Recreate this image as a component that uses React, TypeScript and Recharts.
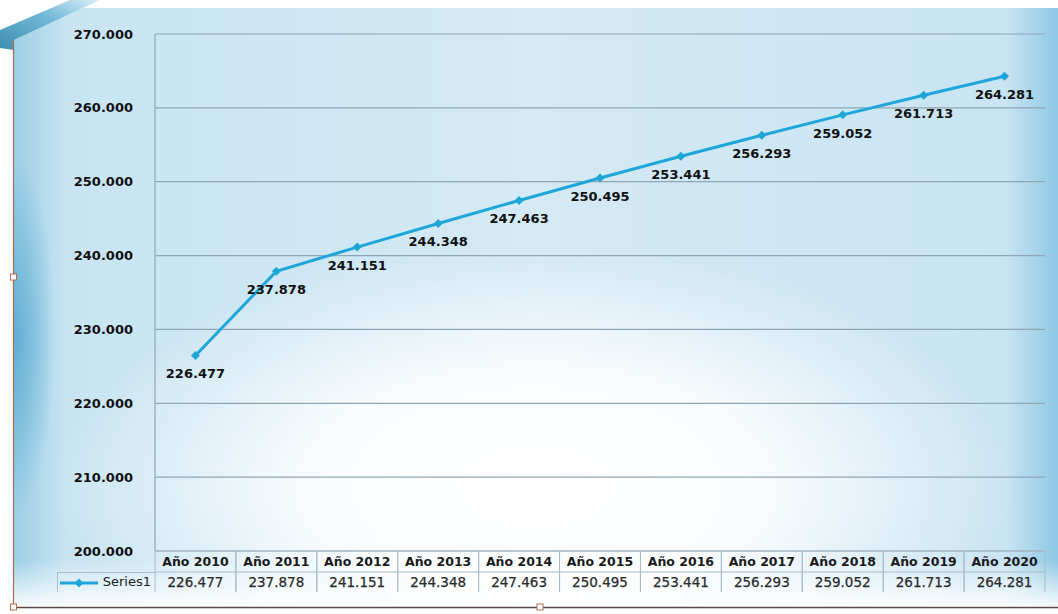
import React from 'react';
import { LineChart, Line, XAxis, YAxis, CartesianGrid, LabelList } from 'recharts';

const years = ['Año 2010', 'Año 2011', 'Año 2012', 'Año 2013', 'Año 2014', 'Año 2015', 'Año 2016', 'Año 2017', 'Año 2018', 'Año 2019', 'Año 2020'];
const series1 = [226.477, 237.878, 241.151, 244.348, 247.463, 250.495, 253.441, 256.293, 259.052, 261.713, 264.281];
const yTicks = [200, 210, 220, 230, 240, 250, 260, 270];

const data = years.map((name, i) => ({ name, value: series1[i] }));

const LINE = '#1ea6d8';
const GRID = '#8fa6b4';
const FONT = '"DejaVu Sans", Verdana, sans-serif';

const fmt = (v: number) => v.toFixed(3);

const TableTick: React.FC<any> = ({ x, y, payload, index }) => {
  const w = 80.9;
  const value = series1[index];
  return (
    <g>
      <rect x={x - w / 2} y={y} width={w} height={21} fill="none" stroke="#a9bcc8" strokeWidth={1} />
      <line x1={x - w / 2} y1={y + 21} x2={x - w / 2} y2={y + 41} stroke="#a9bcc8" />
      <line x1={x + w / 2} y1={y + 21} x2={x + w / 2} y2={y + 41} stroke="#a9bcc8" />
      <text x={x} y={y + 15} textAnchor="middle" fontFamily={FONT} fontWeight="bold" fontSize={12.5} fill="#1a1a1a">
        {payload.value}
      </text>
      <text x={x} y={y + 36} textAnchor="middle" fontFamily={FONT} fontSize={13.5} fill="#2a2a2a" stroke="#2a2a2a" strokeWidth={0.25}>
        {fmt(value)}
      </text>
    </g>
  );
};

const PointLabel: React.FC<any> = ({ x, y, value }) => (
  <text x={x} y={y + 23} textAnchor="middle" fontFamily={FONT} fontWeight="bold" fontSize={13} fill="#111">
    {fmt(value)}
  </text>
);

const Diamond: React.FC<any> = ({ cx, cy }) => (
  <path d={`M${cx} ${cy - 4.5} L${cx + 4.5} ${cy} L${cx} ${cy + 4.5} L${cx - 4.5} ${cy} Z`} fill={LINE} />
);

export default function App() {
  return (
    <div
      style={{
        position: 'absolute',
        left: 0,
        top: 0,
        width: 1058,
        height: 614,
        overflow: 'hidden',
        background: '#ffffff',
      }}
    >
      {/* chart backdrop */}
      <div
        style={{
          position: 'absolute',
          left: 14,
          top: 8,
          width: 1044,
          height: 598,
          background:
            'radial-gradient(ellipse 46% 40% at 50% 80%, rgba(255,255,255,1) 0%, rgba(255,255,255,0.9) 45%, rgba(255,255,255,0) 100%),' +
            'radial-gradient(ellipse 4% 30% at 0% 55%, rgba(90,170,210,0.9) 0%, rgba(90,170,210,0) 100%),' +
            'linear-gradient(90deg, #9ccfe6 0%, #c8e4f2 5%, #d4eaf5 50%, #c9e4f2 95%, #8ec8e4 100%)',
        }}
      />
      <div
        style={{
          position: 'absolute',
          left: 14,
          top: 560,
          width: 1044,
          height: 46,
          background: 'linear-gradient(180deg, rgba(255,255,255,0) 0%, rgba(255,255,255,0.9) 100%)',
        }}
      />
      {/* corner decoration and frame */}
      <svg width={1058} height={614} style={{ position: 'absolute', left: 0, top: 0 }}>
        <defs>
          <linearGradient id="corner" x1="0" y1="1" x2="1" y2="0">
            <stop offset="0%" stopColor="#3d8fb0" />
            <stop offset="55%" stopColor="#6fb6d6" />
            <stop offset="100%" stopColor="#d9eef7" />
          </linearGradient>
        </defs>
        <polygon points="0,0 100,0 14,40 0,30" fill="#ffffff" />
        <polygon points="0,30 70,0 100,0 14,40 14,50 0,48" fill="url(#corner)" />
        <line x1={13.5} y1={40} x2={13.5} y2={607} stroke="#b06a4e" strokeWidth={1.2} />
        <line x1={13} y1={607.5} x2={1058} y2={607.5} stroke="#5a4a48" strokeWidth={1.5} />
        <rect x={10.5} y={274} width={6} height={6} fill="#fff" stroke="#b06a4e" />
        <rect x={10.5} y={604} width={6} height={6} fill="#fff" stroke="#b06a4e" />
        <rect x={537} y={604} width={6} height={6} fill="#fff" stroke="#b06a4e" />
      </svg>
      <div style={{ position: 'absolute', left: 0, top: 0 }}>
        <LineChart width={1058} height={614} data={data} margin={{ top: 34, right: 13, bottom: 22, left: 0 }}>
          <CartesianGrid vertical={false} stroke={GRID} strokeWidth={1.2} />
          <XAxis
            dataKey="name"
            axisLine={false}
            tickLine={false}
            tickSize={0}
            tickMargin={0}
            height={41}
            interval={0}
            padding={{ left: 40.45, right: 40.45 }}
            tick={<TableTick />}
          />
          <YAxis
            domain={[200, 270]}
            ticks={yTicks}
            width={155}
            axisLine={{ stroke: GRID, strokeWidth: 1.2 }}
            tickLine={false}
            tickMargin={16}
            tickFormatter={fmt}
            tick={{ fontFamily: FONT, fontWeight: 'bold', fontSize: 13, fill: '#111' }}
          />
          <Line
            type="linear"
            dataKey="value"
            stroke={LINE}
            strokeWidth={3}
            dot={<Diamond />}
            activeDot={false}
            isAnimationActive={false}
          >
            <LabelList dataKey="value" content={<PointLabel />} />
          </Line>
        </LineChart>
      </div>
      {/* legend key cell of the data table */}
      <div
        style={{
          position: 'absolute',
          left: 57,
          top: 572,
          width: 98,
          height: 20,
          boxSizing: 'border-box',
          borderTop: '1px solid #a9bcc8',
          borderLeft: '1px solid #a9bcc8',
          fontFamily: FONT,
          fontSize: 13,
          color: '#222',
        }}
      >
        <svg width={40} height={20} style={{ position: 'absolute', left: 2, top: 0 }}>
          <line x1={0} y1={10} x2={38} y2={10} stroke={LINE} strokeWidth={3} />
          <path d="M19 5.5 L23.5 10 L19 14.5 L14.5 10 Z" fill={LINE} />
        </svg>
        <span style={{ position: 'absolute', right: 4, top: 1 }}>Series1</span>
      </div>
    </div>
  );
}
